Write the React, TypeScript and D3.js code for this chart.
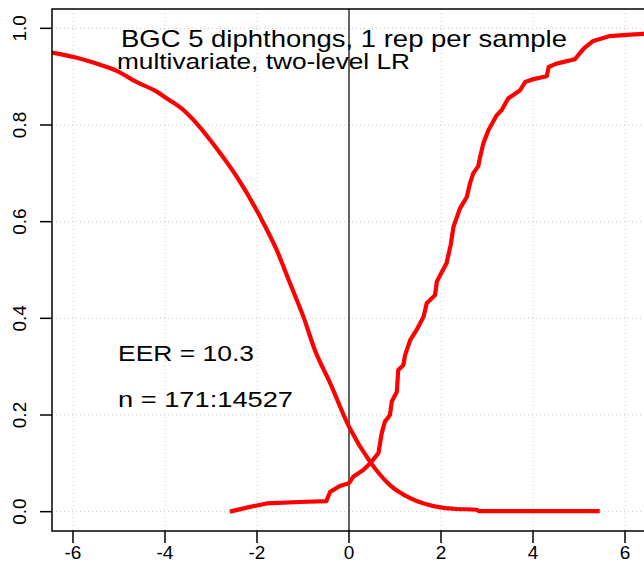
import { scaleLinear, line, curveMonotoneX, curveLinear } from "d3";

// different-source comparisons (falling curve)
const dsX = [-6.7, -6.46, -5.96, -5.49, -5.05, -4.62, -4.18, -3.96, -3.6, -3.31, -2.88, -2.44, -1.93, -1.57, -1.28, -0.99, -0.74, -0.41, 0.0, 0.46, 0.89, 1.33, 1.98, 2.27, 2.78, 2.82, 5.45];
const dsY = [0.954, 0.95, 0.94, 0.927, 0.912, 0.889, 0.869, 0.855, 0.831, 0.803, 0.752, 0.693, 0.61, 0.541, 0.472, 0.403, 0.334, 0.266, 0.176, 0.103, 0.055, 0.028, 0.009, 0.006, 0.004, 0.001, 0.001];

// same-source comparisons (rising curve)
const ssX = [-2.59, -2.15, -1.79, -1.07, -0.49, -0.45, -0.41, -0.2, 0.0, 0.09, 0.31, 0.46, 0.64, 0.71, 0.78, 0.89, 0.93, 1.04, 1.07, 1.18, 1.22, 1.33, 1.47, 1.62, 1.69, 1.87, 1.91, 2.12, 2.21, 2.27, 2.41, 2.56, 2.63, 2.7, 2.81, 2.85, 2.92, 3.03, 3.21, 3.32, 3.46, 3.72, 3.83, 4.01, 4.3, 4.34, 4.51, 4.91, 5.1, 5.31, 5.67, 6.11, 6.7];
const ssY = [0.0, 0.01, 0.017, 0.02, 0.022, 0.032, 0.041, 0.053, 0.059, 0.072, 0.086, 0.1, 0.121, 0.162, 0.186, 0.2, 0.228, 0.248, 0.293, 0.303, 0.324, 0.355, 0.376, 0.403, 0.431, 0.448, 0.476, 0.514, 0.552, 0.589, 0.627, 0.651, 0.679, 0.7, 0.715, 0.734, 0.762, 0.789, 0.82, 0.831, 0.855, 0.872, 0.889, 0.895, 0.901, 0.92, 0.927, 0.936, 0.958, 0.974, 0.984, 0.987, 0.99];

const xTicks = [-6, -4, -2, 0, 2, 4, 6];
const yTicks = [0, 0.2, 0.4, 0.6, 0.8, 1.0];

const titleLines = ["BGC 5 diphthongs, 1 rep per sample", "multivariate, two-level LR"];
const eerLabel = "EER = 10.3";
const nLabel = "n = 171:14527";

const W = 644;
const H = 582;
const font = "'Liberation Sans', Arial, Helvetica, sans-serif";

export default function App() {
  const left = 52, right = 646, top = 9, bottom = 531;
  const x = scaleLinear().domain([-6.456, 6.456]).range([left, right]);
  const y = scaleLinear().domain([-0.04, 1.04]).range([bottom, top]);

  const mk = (xs: number[], ys: number[], curve: any) =>
    line<number>()
      .x((d) => x(d))
      .y((_, i) => y(ys[i]))
      .curve(curve)(xs) || "";

  return (
    <svg
      width={W}
      height={H}
      style={{ position: "absolute", left: 0, top: 0, background: "white" }}
      fontFamily={font}
    >
      <defs>
        <clipPath id="plotArea">
          <rect x={left} y={top} width={right - left} height={bottom - top} />
        </clipPath>
      </defs>

      {/* grid */}
      {xTicks.map((t) => (
        <line key={"gx" + t} x1={x(t)} x2={x(t)} y1={top} y2={bottom}
          stroke="#c8c8c8" strokeWidth={1} strokeDasharray="1,3" />
      ))}
      {yTicks.map((t) => (
        <line key={"gy" + t} x1={left} x2={right} y1={y(t)} y2={y(t)}
          stroke="#c8c8c8" strokeWidth={1} strokeDasharray="1,3" />
      ))}

      {/* vertical line at zero */}
      <line x1={x(0)} x2={x(0)} y1={top} y2={bottom} stroke="#000" strokeWidth={1.2} />

      {/* curves */}
      <g clipPath="url(#plotArea)">
        <path d={mk(dsX, dsY, curveMonotoneX)} fill="none" stroke="#ff0000" strokeWidth={4.2} strokeLinejoin="round" />
        <path d={mk(ssX, ssY, curveLinear)} fill="none" stroke="#ff0000" strokeWidth={4.2} strokeLinejoin="round" />
      </g>

      {/* box */}
      <rect x={left} y={top} width={right - left} height={bottom - top} fill="none" stroke="#000" strokeWidth={1.5} />

      {/* x axis */}
      {xTicks.map((t) => (
        <g key={"xt" + t}>
          <line x1={x(t)} x2={x(t)} y1={bottom} y2={bottom + 12} stroke="#000" strokeWidth={1.5} />
          <text x={x(t)} y={bottom + 28} textAnchor="middle" fontSize={19}>{t}</text>
        </g>
      ))}

      {/* y axis */}
      {yTicks.map((t) => (
        <g key={"yt" + t}>
          <line x1={left - 12} x2={left} y1={y(t)} y2={y(t)} stroke="#000" strokeWidth={1.5} />
          <text transform={`translate(${left - 26},${y(t)}) rotate(-90)`} textAnchor="middle" fontSize={19}>
            {t.toFixed(1)}
          </text>
        </g>
      ))}

      {/* annotations */}
      <text x={121} y={47} fontSize={24} textLength={446} lengthAdjust="spacingAndGlyphs">{titleLines[0]}</text>
      <text x={117} y={69} fontSize={22} textLength={293} lengthAdjust="spacingAndGlyphs">{titleLines[1]}</text>
      <text x={118} y={361} fontSize={22} textLength={136} lengthAdjust="spacingAndGlyphs">{eerLabel}</text>
      <text x={118} y={407} fontSize={22} textLength={175} lengthAdjust="spacingAndGlyphs">{nLabel}</text>
    </svg>
  );
}
